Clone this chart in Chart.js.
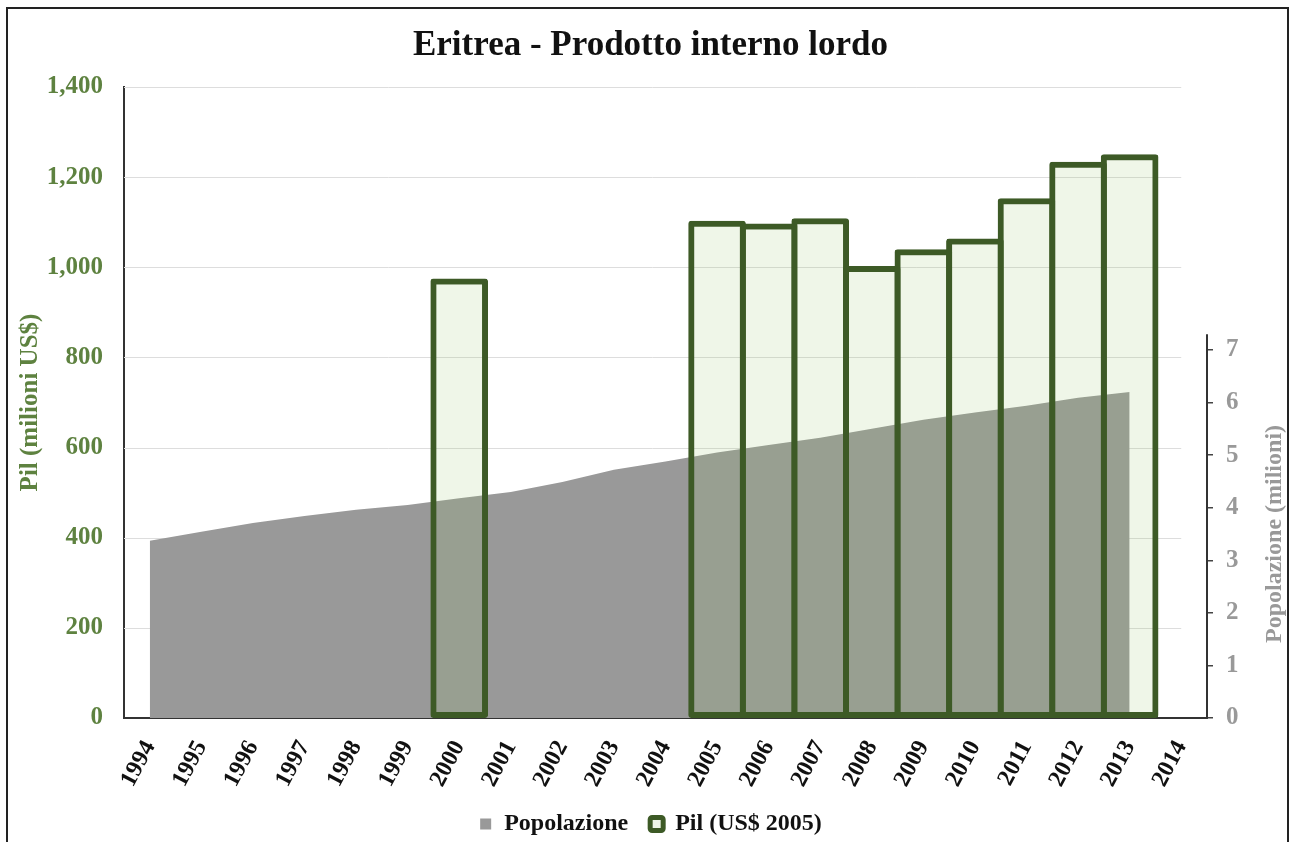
<!DOCTYPE html>
<html>
<head>
<meta charset="utf-8">
<title>Eritrea - Prodotto interno lordo</title>
<script src="https://cdn.jsdelivr.net/npm/chart.js@4.4.1/dist/chart.umd.min.js"></script>
<style>
  html, body { margin: 0; padding: 0; background: #fff; }
  #wrap { position: relative; width: 1295px; height: 842px; overflow: hidden; }
  #cornice { position: absolute; left: 6px; top: 7px; width: 1279px; height: 900px; border: 2px solid #222; pointer-events: none; }
</style>
</head>
<body>
<div id="wrap">
  <canvas id="grafico" width="1295" height="842"></canvas>
  <div id="cornice"></div>
</div>
<script>
// etichette asse x
const anni = [1994, 1995, 1996, 1997, 1998, 1999, 2000, 2001, 2002, 2003, 2004,
              2005, 2006, 2007, 2008, 2009, 2010, 2011, 2012, 2013, 2014];

// popolazione (milioni) - area grigia
const anniPop = [1994, 1995, 1996, 1997, 1998, 1999, 2000, 2001, 2002, 2003,
                 2004, 2005, 2006, 2007, 2008, 2009, 2010, 2011, 2012, 2013];
const popolazione = [3.37, 3.54, 3.71, 3.84, 3.96, 4.05, 4.18, 4.30, 4.49, 4.72,
                     4.88, 5.05, 5.19, 5.33, 5.50, 5.67, 5.81, 5.94, 6.09, 6.20];

// Pil (milioni US$ 2005) - barre
const anniPil = [2000, 2005, 2006, 2007, 2008, 2009, 2010, 2011, 2012, 2013];
const pil = [975, 1103, 1097, 1109, 1003, 1040, 1064, 1153, 1234, 1251];

const tickPil = [0, 200, 400, 600, 800, 1000, 1200, 1400];
const tickPop = [0, 1, 2, 3, 4, 5, 6, 7];

document.addEventListener('DOMContentLoaded', function () {
    const serif = '"Liberation Serif", "Times New Roman", serif';
    const verde = '#5e8240';
    const grigio = '#999999';

    // griglia che si ferma al 2014, asse destro corto e il suo titolo
    const assiExtra = {
        id: 'assiExtra',
        beforeDatasetsDraw(chart) {
            const ctx = chart.ctx;
            const x = chart.scales.x;
            const y = chart.scales.y;
            ctx.save();
            ctx.strokeStyle = '#dddddd';
            ctx.lineWidth = 1;
            tickPil.forEach(function (v) {
                if (v === 0) return;
                const py = Math.round(y.getPixelForValue(v)) + 0.5;
                ctx.beginPath();
                ctx.moveTo(x.left, py);
                ctx.lineTo(x.getPixelForValue(anni[anni.length - 1]), py);
                ctx.stroke();
            });
            ctx.restore();
        },
        afterDraw(chart) {
            const ctx = chart.ctx;
            const y1 = chart.scales.y1;
            ctx.save();
            ctx.strokeStyle = '#333333';
            ctx.lineWidth = 2;
            ctx.beginPath();
            ctx.moveTo(y1.left, y1.getPixelForValue(0) + 1);
            ctx.lineTo(y1.left, y1.getPixelForValue(7.3));
            ctx.stroke();

            // titolo asse destro, letto dal basso verso l'alto
            ctx.translate(y1.right - 16, y1.getPixelForValue(3.5));
            ctx.rotate(-Math.PI / 2);
            ctx.font = 'bold 24px ' + serif;
            ctx.fillStyle = grigio;
            ctx.textAlign = 'center';
            ctx.textBaseline = 'middle';
            ctx.fillText('Popolazione (milioni)', 0, 0);
            ctx.restore();
        }
    };

    const datiPop = anniPop.map(function (a, i) { return { x: a, y: popolazione[i] }; });
    const datiPil = anniPil.map(function (a, i) { return { x: a, y: pil[i] }; });

    const ctx = document.getElementById('grafico').getContext('2d');
    new Chart(ctx, {
        type: 'bar',
        data: {
            datasets: [{
                type: 'line',
                label: 'Popolazione',
                data: datiPop,
                yAxisID: 'y1',
                backgroundColor: grigio,
                borderColor: grigio,
                borderWidth: 0,
                pointRadius: 0,
                fill: 'origin',
                tension: 0,
                order: 2
            }, {
                type: 'bar',
                label: 'Pil (US$ 2005)',
                data: datiPil,
                yAxisID: 'y',
                backgroundColor: 'rgba(150, 195, 100, 0.15)',
                borderColor: '#3d5a26',
                borderWidth: 6,
                borderSkipped: false,
                borderRadius: 3,
                categoryPercentage: 1,
                barPercentage: 1.118,
                order: 1
            }]
        },
        options: {
            responsive: false,
            animation: false,
            locale: 'en-US',
            layout: { padding: { left: 10, right: 4, top: 0, bottom: 0 } },
            plugins: {
                title: {
                    display: true,
                    text: 'Eritrea - Prodotto interno lordo',
                    color: '#111',
                    font: { family: serif, size: 35, weight: 'bold' },
                    padding: { top: 25, bottom: 20 }
                },
                legend: {
                    position: 'bottom',
                    maxHeight: 52,
                    labels: {
                        color: '#111',
                        font: { family: serif, size: 24, weight: 'bold' },
                        boxWidth: 13,
                        boxHeight: 13,
                        padding: 22,
                        sort: function (a, b) { return a.datasetIndex - b.datasetIndex; },
                        generateLabels: function (chart) {
                            const voci = Chart.defaults.plugins.legend.labels.generateLabels(chart);
                            voci.forEach(function (v) {
                                if (v.datasetIndex === 0) {
                                    v.strokeStyle = '#ffffff';
                                    v.lineWidth = 2;
                                    v.borderRadius = 0;
                                } else {
                                    v.lineWidth = 5;
                                    v.borderRadius = 2;
                                }
                            });
                            return voci;
                        }
                    }
                },
                tooltip: { enabled: false }
            },
            scales: {
                x: {
                    type: 'linear',
                    min: 1993.5,
                    max: 2014.5,
                    offset: false,
                    z: 1,
                    afterBuildTicks: function (scale) {
                        scale.ticks = anni.map(function (a) { return { value: a }; });
                    },
                    afterFit: function (scale) { scale.height = 72; },
                    grid: { display: false, offset: false, drawTicks: false, tickLength: 0 },
                    border: { display: true, color: '#333', width: 2 },
                    ticks: {
                        autoSkip: false,
                        maxRotation: 62,
                        minRotation: 62,
                        padding: 18,
                        color: '#111',
                        font: { family: serif, size: 24, weight: 'bold' },
                        callback: function (v) { return String(v); }
                    }
                },
                y: {
                    position: 'left',
                    min: 0,
                    max: 1400,
                    afterBuildTicks: function (scale) {
                        scale.ticks = tickPil.map(function (v) { return { value: v }; });
                    },
                    afterFit: function (scale) { scale.width = 114; },
                    grid: { display: false, drawTicks: false, tickLength: 0 },
                    border: { display: true, color: '#333', width: 2 },
                    ticks: {
                        padding: 21,
                        color: verde,
                        font: { family: serif, size: 25, weight: 'bold' }
                    },
                    title: {
                        display: true,
                        text: 'Pil (milioni US$)',
                        color: verde,
                        font: { family: serif, size: 25, weight: 'bold' },
                        padding: { top: 6, bottom: 6 }
                    }
                },
                y1: {
                    position: 'right',
                    min: 0,
                    max: 12,
                    afterBuildTicks: function (scale) {
                        scale.ticks = tickPop.map(function (v) { return { value: v }; });
                    },
                    afterFit: function (scale) { scale.width = 84; },
                    grid: {
                        display: true,
                        drawOnChartArea: false,
                        drawTicks: true,
                        tickLength: 6,
                        tickColor: '#444',
                        lineWidth: 1.5
                    },
                    border: { display: false },
                    ticks: {
                        padding: 13,
                        color: grigio,
                        font: { family: serif, size: 25, weight: 'bold' }
                    }
                }
            }
        },
        plugins: [assiExtra]
    });
});
</script>
</body>
</html>
